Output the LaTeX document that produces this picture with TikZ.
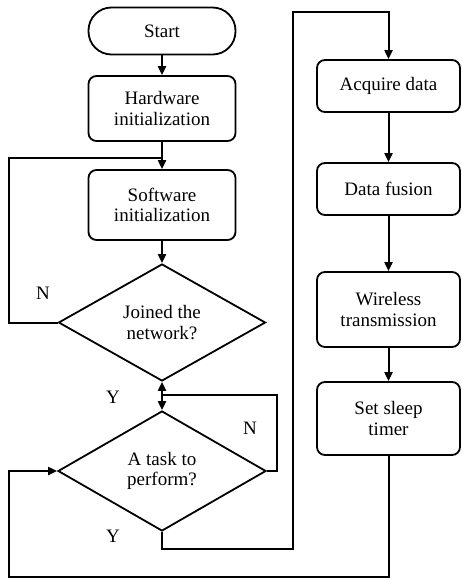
\documentclass[tikz,border=0pt]{standalone}
\usepackage{fontspec}
\setmainfont{Liberation Serif}
\usetikzlibrary{shapes.geometric,arrows.meta}

\tikzset{
  proc/.style={draw, line width=1.8pt, rounded corners=8pt, minimum width=147pt,
    align=center, inner sep=0pt},
  term/.style={proc, rounded corners=23pt, minimum height=47pt},
  dec/.style={draw, diamond, line width=1.8pt, aspect=1.77, inner sep=0pt, align=center},
  line/.style={line width=2pt},
  arr/.style={line, -{Triangle[length=9pt,width=8pt]}}
}

\begin{document}
\begin{tikzpicture}[x=1pt,y=-1pt,font=\fontsize{19}{20.5}\selectfont]
            \useasboundingbox (0,0) rectangle (461,580);

            % Left column
            \node[term] (start) at (162,31) {Start};
            \node[proc, minimum height=65pt] (hw) at (162,108.5) {Hardware\\initialization};
            \node[proc, minimum height=70pt] (sw) at (162,205) {Software\\initialization};
            \node[dec, minimum width=207pt, minimum height=117pt] (net) at (162,322.5) {Joined the\\network?};
            \node[dec, minimum width=208pt, minimum height=120pt] (task) at (162,471) {A task to\\perform?};

            % Right column
            \node[proc, minimum width=143pt, minimum height=52pt] (acq) at (388.5,86) {Acquire data};
            \node[proc, minimum width=143pt, minimum height=52pt] (fus) at (388.5,189) {Data fusion};
            \node[proc, minimum width=143pt, minimum height=75pt] (wir) at (388.5,309.5) {Wireless\\transmission};
            \node[proc, minimum width=143pt, minimum height=73pt] (slp) at (388.5,418.5) {Set sleep\\timer};

            % Turning points
            \coordinate (j1) at (162,158);
            \coordinate (j2) at (162,395);
            \coordinate (ybot) at (293,549);
            \coordinate (ytop) at (293,12);
            \coordinate (back) at (9,577);

            % Arrows
            \draw[arr] (start) -- (hw);
            \draw[arr] (hw) -- (sw);
            \draw[arr] (sw) -- (net);
            \draw[line, {Triangle[length=9pt,width=8pt]}-{Triangle[length=9pt,width=8pt]}] (net.south) -- (task.north);
            \draw[arr] (acq) -- (fus);
            \draw[arr] (fus) -- (wir);
            \draw[arr] (wir) -- (slp);

            % Loops
            \draw[line] (net.west) -- ++(-49,0) |- (j1);
            \draw[line] (task.east) -- ++(10,0) |- (j2);
            \draw[arr] (task.south) |- (ybot) -- (ytop) -| (acq.north);
            \draw[arr] (slp.south) |- (back) |- (task.west);

            % Labels
            \node (n1) at (43,293) {N};
            \node (y1) at (113,397) {Y};
            \node (n2) at (250,428) {N};
            \node (y2) at (113,536) {Y};
        \end{tikzpicture}
\end{document}
